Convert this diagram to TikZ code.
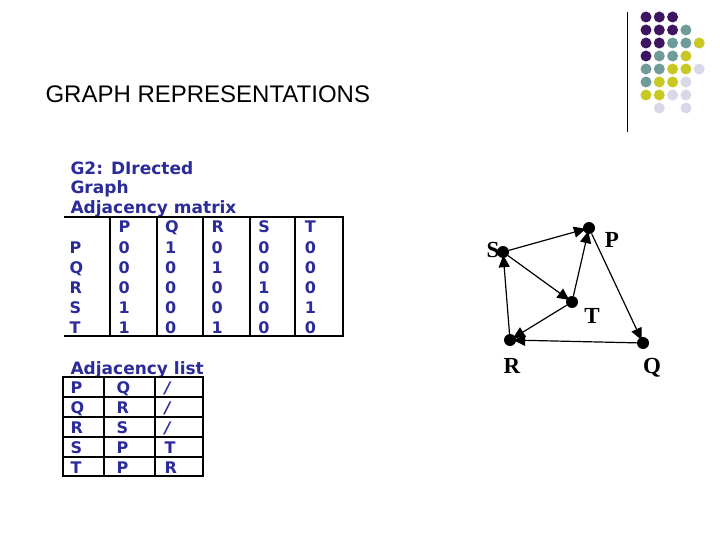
\documentclass[tikz,border=0pt]{standalone}
\usepackage{fontspec}
\setmainfont{Liberation Sans}
\newfontfamily\serifb{Liberation Serif}
\newfontfamily\wideb{DejaVu Sans}
\usetikzlibrary{arrows.meta}
\definecolor{dk}{HTML}{3D1560}
\definecolor{gr}{HTML}{6F9B9B}
\definecolor{ye}{HTML}{C8C822}
\definecolor{li}{HTML}{D8D8E8}
\definecolor{blu}{HTML}{2B2B9A}
\begin{document}
\begin{tikzpicture}[x=1pt,y=-1pt,
  vtx/.style={circle,fill=black,inner sep=0pt,minimum size=12pt},
  vlab/.style={font=\serifb\bfseries\fontsize{23}{23}\selectfont},
  edge/.style={line width=1.2pt,-{Triangle[length=12pt,width=11pt]},shorten >=-3pt},
  cell/.style={font=\wideb\bfseries\fontsize{16}{16}\selectfont,text=blu,anchor=base west},
  hd/.style={font=\wideb\bfseries\fontsize{17}{17}\selectfont,text=blu,anchor=base west}]
\useasboundingbox (0,0) rectangle (720,540);
% title
\node[anchor=base west,font=\fontsize{24}{24}\selectfont] (title) at (42,103) {GRAPH REPRESENTATIONS};
% decoration
\draw[line width=1pt] (627,12) -- (627,132);
\foreach \r/\list in {17/{dk,dk,dk},30/{dk,dk,dk,gr},43/{dk,dk,gr,gr,ye},56/{dk,gr,gr,ye},69/{gr,gr,ye,ye,li},82/{gr,ye,ye,li},95/{ye,ye,li,li}}{
  \foreach \c [count=\i] in \list {\fill[\c] ({646+13.3*(\i-1)},\r) circle (5.5);}}
\fill[li] (659.3,108) circle (5.5);
\fill[li] (686,108) circle (5.5);
% headings
\node[hd] (h1) at (67,175) {G2: DIrected};
\node[hd] (h2) at (67,194) {Graph};
\node[hd] (h3) at (67,214) {Adjacency matrix};
% matrix table
\draw[line width=1.5pt] (64,217) -- (343,217) -- (343,336) -- (64,336);
\foreach \x in {110,157,203,250,295,343} \draw[line width=1.5pt] (\x,217) -- (\x,336);
\foreach \t [count=\i] in {P,Q,R,S,T}
  \node[cell] at ({110+46.6*(\i-1)+5},233) {\t};
\foreach \lab/\row [count=\j] in {P/{0,1,0,0,0},Q/{0,0,1,0,0},R/{0,0,0,1,0},S/{1,0,0,0,1},T/{1,0,1,0,0}}{
  \node[cell] at (66,{233+20*\j}) {\lab};
  \foreach \v [count=\i] in \row \node[cell] at ({110+46.6*(\i-1)+5},{233+20*\j}) {\v};}
% adjacency list
\node[hd] (h4) at (67,374) {Adjacency list};
\draw[line width=1.5pt] (63,377) rectangle (203,476);
\foreach \x in {104,155} \draw[line width=1.5pt] (\x,377) -- (\x,476);
\foreach \y in {397,417,437,457} \draw[line width=1.5pt] (63,\y) -- (203,\y);
\foreach \a/\b/\c [count=\j] in {P/Q/{\itshape/},Q/R/{\itshape/},R/S/{\itshape/},S/P/T,T/P/R}{
  \node[cell] at (67,{373+20*\j}) {\a};
  \node[cell] at (113,{373+20*\j}) {\b};
  \node[cell] at (161,{373+20*\j}) {\c};}
% graph
\node[vtx] (S) at (503,252) {};
\node[vtx] (P) at (589,228) {};
\node[vtx] (T) at (572,302) {};
\node[vtx] (R) at (510,340) {};
\node[vtx] (Q) at (643,343) {};
\node[vlab] (lS) at (493,250) {S};
\node[vlab] (lP) at (612,240) {P};
\node[vlab] (lT) at (592,316) {T};
\node[vlab] (lR) at (512,366) {R};
\node[vlab] (lQ) at (652,368) {Q};
\draw[edge] (P) -- (Q);
\draw[edge] (Q) -- (R);
\draw[edge] (R) -- (S);
\draw[edge] (S) -- (P);
\draw[edge] (S) -- (T);
\draw[edge] (T) -- (P);
\draw[edge] (T) -- (R);
\end{tikzpicture}
\end{document}
